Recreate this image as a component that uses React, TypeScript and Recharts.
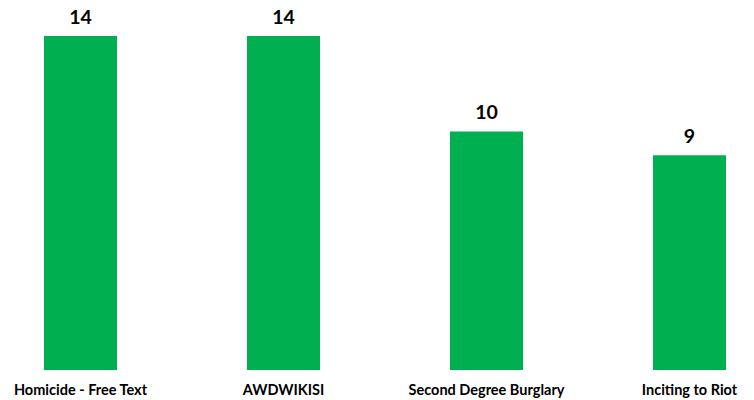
import { BarChart, Bar, XAxis, YAxis, LabelList } from "recharts";

const categories = ["Homicide - Free Text", "AWDWIKISI", "Second Degree Burglary", "Inciting to Riot"];
const counts = [14, 14, 10, 9];

const data = categories.map((name, i) => ({ name, count: counts[i] }));

export default function App() {
  return (
    <div style={{ position: "fixed", left: 0, top: 0, width: 754, height: 400, overflow: "hidden", background: "#fff" }}>
      <div style={{ marginLeft: -21.5 }}>
        <BarChart width={812} height={400} data={data} margin={{ top: 36, right: 0, bottom: 0, left: 0 }}>
          <XAxis
            dataKey="name"
            axisLine={false}
            tickLine={false}
            tickSize={0}
            tickMargin={15}
            height={30}
            interval={0}
            tick={{ fill: "#000", fontFamily: "Lato", fontWeight: 700, fontSize: 14.5 }}
          />
          <YAxis hide domain={[0, 14]} />
          <Bar dataKey="count" fill="#00B050" barSize={73} isAnimationActive={false}>
            <LabelList
              dataKey="count"
              position="top"
              offset={12}
              style={{ fill: "#000", fontFamily: "Lato", fontWeight: 700, fontSize: 19.5 }}
            />
          </Bar>
        </BarChart>
      </div>
    </div>
  );
}
